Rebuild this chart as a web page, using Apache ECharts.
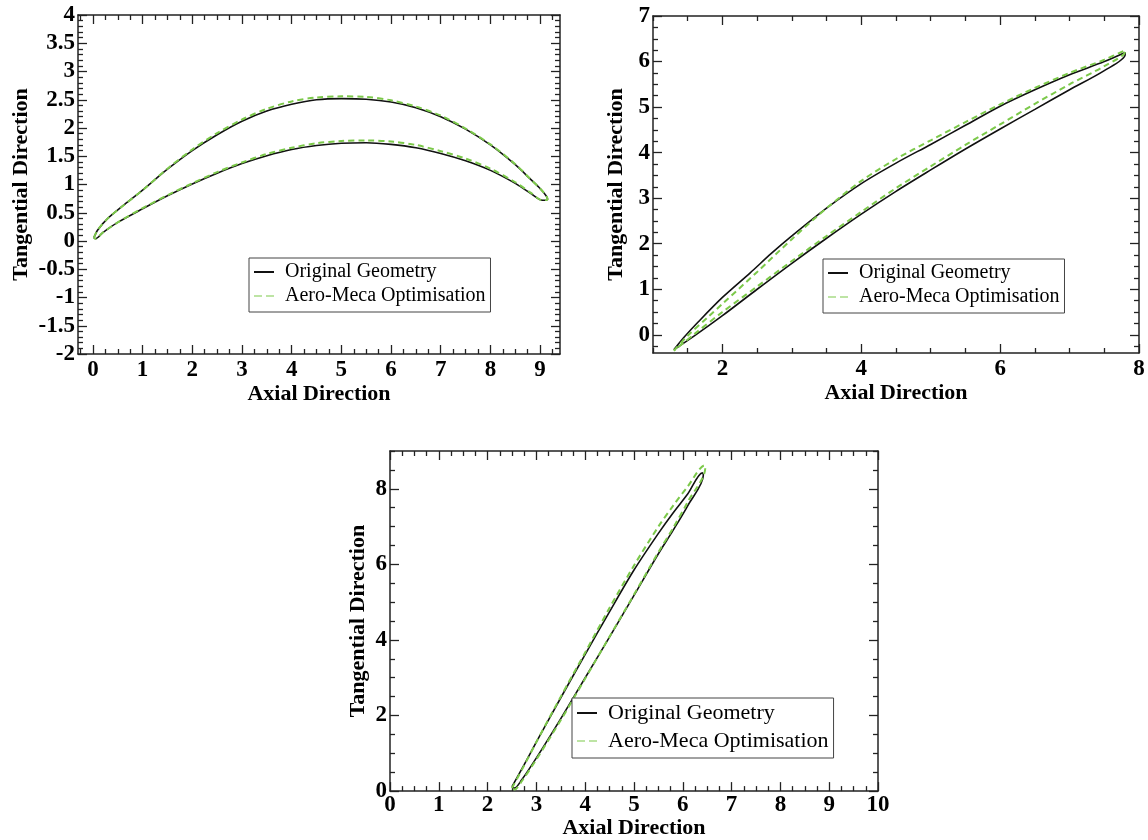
<!DOCTYPE html>
<html><head><meta charset="utf-8">
<script src="https://cdn.jsdelivr.net/npm/echarts@6/dist/echarts.min.js"></script>
<style>html,body{margin:0;padding:0;background:#fff}#c{width:1148px;height:840px}</style>
</head><body><div id="c"></div>
<script>
// ---------- DATA ----------
const seriesNames = ['Original Geometry', 'Aero-Meca Optimisation'];
const xTitle = 'Axial Direction';
const yTitle = 'Tangential Direction';

// Panel 1 (top left)
const p1XLabels = [0,1,2,3,4,5,6,7,8,9];
const p1YLabels = [-2,-1.5,-1,-0.5,0,0.5,1,1.5,2,2.5,3,3.5,4];
const p1Original = [[0.02,0.06],[0.1,0.2],[0.3,0.4],[0.6,0.62],[1.0,0.9],[1.5,1.27],[2.0,1.6],[2.5,1.88],[3.0,2.12],[3.5,2.3],[4.0,2.42],[4.5,2.5],[5.0,2.52],[5.5,2.51],[6.0,2.46],[6.5,2.36],[7.0,2.2],[7.5,1.98],[8.0,1.7],[8.5,1.35],[8.8,1.1],[9.0,0.93],[9.12,0.8],[9.15,0.74],[9.05,0.72],[8.8,0.85],[8.5,1.02],[8.0,1.25],[7.5,1.42],[7.0,1.55],[6.5,1.65],[6.0,1.71],[5.5,1.74],[5.0,1.73],[4.5,1.69],[4.0,1.62],[3.5,1.51],[3.0,1.37],[2.5,1.2],[2.0,1.01],[1.5,0.8],[1.0,0.57],[0.5,0.33],[0.2,0.15],[0.05,0.04],[0.02,0.06]];
const p1Optimised = [[0.02,0.06],[0.1,0.2],[0.3,0.4],[0.6,0.62],[1.0,0.9],[1.5,1.28],[2.0,1.62],[2.5,1.91],[3.0,2.15],[3.5,2.34],[4.0,2.47],[4.5,2.54],[5.0,2.56],[5.5,2.55],[6.0,2.49],[6.5,2.38],[7.0,2.22],[7.5,1.99],[8.0,1.71],[8.5,1.36],[8.8,1.1],[9.0,0.93],[9.12,0.8],[9.15,0.74],[9.05,0.72],[8.8,0.86],[8.5,1.04],[8.0,1.28],[7.5,1.46],[7.0,1.59],[6.5,1.7],[6.0,1.76],[5.5,1.78],[5.0,1.77],[4.5,1.73],[4.0,1.65],[3.5,1.54],[3.0,1.39],[2.5,1.22],[2.0,1.02],[1.5,0.81],[1.0,0.58],[0.5,0.33],[0.2,0.15],[0.05,0.04],[0.02,0.06]];

// Panel 2 (top right)
const p2XLabels = [2,4,6,8];
const p2YLabels = [0,1,2,3,4,5,6,7];
const p2Original = [[1.3,-0.33],[1.45,-0.05],[1.65,0.28],[2.0,0.82],[2.4,1.36],[2.7,1.78],[3.0,2.17],[3.5,2.78],[4.0,3.32],[4.5,3.77],[5.0,4.18],[5.5,4.6],[6.0,5.02],[6.5,5.38],[7.0,5.71],[7.5,6.0],[7.8,6.2],[7.8,6.15],[7.5,5.8],[7.0,5.38],[6.5,4.95],[6.0,4.52],[5.5,4.08],[5.0,3.62],[4.5,3.15],[4.0,2.65],[3.5,2.12],[3.0,1.57],[2.5,1.0],[2.0,0.42],[1.6,-0.02],[1.3,-0.33]];
const p2Optimised = [[1.3,-0.35],[1.5,-0.02],[1.8,0.4],[2.0,0.68],[2.5,1.38],[3.0,2.1],[3.5,2.78],[4.0,3.38],[4.5,3.86],[5.0,4.27],[5.5,4.67],[6.0,5.06],[6.5,5.42],[7.0,5.75],[7.5,6.04],[7.8,6.25],[7.8,6.22],[7.5,5.9],[7.0,5.5],[6.5,5.07],[6.0,4.62],[5.5,4.17],[5.0,3.7],[4.5,3.22],[4.0,2.7],[3.5,2.17],[3.0,1.62],[2.5,1.06],[2.0,0.5],[1.6,0.02],[1.3,-0.35]];

// Panel 3 (bottom)
const p3XLabels = [0,1,2,3,4,5,6,7,8,9,10];
const p3YLabels = [0,2,4,6,8];
const p3Original = [[2.5,0.12],[2.75,0.7],[3.0,1.3],[3.5,2.47],[4.0,3.62],[4.5,4.75],[5.0,5.85],[5.5,6.82],[5.8,7.36],[6.1,7.86],[6.4,8.42],[6.42,8.35],[6.1,7.55],[5.8,6.9],[5.5,6.28],[5.0,5.18],[4.5,4.08],[4.0,3.0],[3.5,1.92],[3.0,0.88],[2.7,0.3],[2.55,0.08],[2.5,0.12]];
const p3Optimised = [[2.5,0.08],[2.75,0.68],[3.0,1.3],[3.5,2.5],[4.0,3.67],[4.5,4.85],[5.0,5.97],[5.5,7.0],[5.8,7.55],[6.1,8.06],[6.45,8.62],[6.46,8.55],[6.1,7.65],[5.8,6.96],[5.5,6.32],[5.0,5.2],[4.5,4.09],[4.0,2.98],[3.5,1.88],[3.0,0.84],[2.7,0.26],[2.55,0.04],[2.5,0.08]];

// ---------- LAYOUT / STYLE ----------
const FONT = "'Liberation Serif','Times New Roman',serif";
const BLACK = '#111111';
const GREEN = '#7cc94a';
const AXIS = '#222222';
const DASH_ICON = 'path://M0,0H8V1H0Z M12,0H20V1H12Z';

const panels = [
  {grid:{left:78, top:15, width:482, height:339}, x:{min:-0.3, max:9.4, minorStep:0.25, labels:p1XLabels},
   y:{min:-2, max:4, minorStep:0.1, labels:p1YLabels}, xGap:27, yGap:46, xMargin:5,
   legend:{left:249, top:258, fontSize:20, gap:4}, orig:p1Original, opt:p1Optimised},
  {grid:{left:653, top:16, width:486, height:337}, x:{min:1, max:8, minorStep:0.5, labels:p2XLabels},
   y:{min:-0.4, max:7, minorStep:0.25, labels:p2YLabels}, xGap:27, yGap:26, xMargin:5,
   legend:{left:823, top:259, fontSize:20, gap:4}, orig:p2Original, opt:p2Optimised},
  {grid:{left:390, top:451, width:488, height:352}, x:{min:0, max:10, minorStep:0.25, labels:p3XLabels},
   y:{min:0, max:9, minorStep:0.5, labels:p3YLabels}, xGap:17, yGap:21, xMargin:2,
   legend:{left:572, top:698, fontSize:22, gap:6}, orig:p3Original, opt:p3Optimised}
];

function steps(min, max, step) {
  const out = [];
  const start = Math.ceil(min / step - 1e-9);
  for (let k = start; k * step <= max + 1e-9; k++) out.push(Math.round(k * step * 1000) / 1000);
  return out;
}

const tickLine = {color: AXIS, width: 1.3};
function makeAxes(gi, spec, isX, name, gap, margin) {
  const sides = isX ? ['bottom', 'top'] : ['left', 'right'];
  const minor = steps(spec.min, spec.max, spec.minorStep).filter(v => spec.labels.indexOf(v) < 0);
  const axes = [];
  sides.forEach((side, si) => {
    const base = {gridIndex: gi, type: 'value', position: side, offset: 0, min: spec.min, max: spec.max,
      splitLine: {show: false}};
    axes.push(Object.assign({}, base, {
      axisLine: {show: true, onZero: false, lineStyle: {color: AXIS, width: 1.5}},
      axisTick: {show: true, inside: true, length: 9, customValues: spec.labels, lineStyle: tickLine},
      axisLabel: si === 0 ? {show: true, customValues: spec.labels, margin: margin,
        fontFamily: FONT, fontWeight: 'bold', fontSize: 23, color: '#000'} : {show: false},
      name: si === 0 ? name : '', nameLocation: 'middle', nameGap: gap,
      nameTextStyle: {fontFamily: FONT, fontWeight: 'bold', fontSize: 22, color: '#000'}
    }));
    axes.push(Object.assign({}, base, {
      axisLine: {show: false, onZero: false},
      axisTick: {show: true, inside: true, length: 5, customValues: minor, lineStyle: tickLine},
      axisLabel: {show: false}
    }));
  });
  return axes;
}

const option = {animation: false, backgroundColor: '#fff', grid: [], xAxis: [], yAxis: [], legend: [], series: []};
panels.forEach((p, i) => {
  option.grid.push(Object.assign({containLabel: false}, p.grid));
  option.xAxis.push(...makeAxes(i, p.x, true, xTitle, p.xGap, p.xMargin));
  option.yAxis.push(...makeAxes(i, p.y, false, yTitle, p.yGap, 3));
  option.legend.push({
    left: p.legend.left, top: p.legend.top, orient: 'vertical', selectedMode: false,
    data: [{name: seriesNames[0], icon: 'rect'}, {name: seriesNames[1], icon: DASH_ICON}],
    itemWidth: 20, itemHeight: 2, itemGap: p.legend.gap, padding: [4, 5, 6, 5],
    borderColor: '#444', borderWidth: 1, backgroundColor: '#fff',
    textStyle: {fontFamily: FONT, fontSize: p.legend.fontSize, color: '#000', padding: [0, 0, 0, 6]}
  });
  option.series.push({
    name: seriesNames[0], type: 'line', xAxisIndex: 4 * i, yAxisIndex: 4 * i, data: p.orig,
    symbol: 'none', smooth: 0.3, lineStyle: {color: BLACK, width: 1.6, type: 'solid'}, itemStyle: {color: BLACK}, z: 2
  });
  option.series.push({
    name: seriesNames[1], type: 'line', xAxisIndex: 4 * i, yAxisIndex: 4 * i, data: p.opt,
    symbol: 'none', smooth: 0.3, lineStyle: {color: GREEN, width: 2, type: [6, 4]}, itemStyle: {color: GREEN}, z: 3
  });
});

const chart = echarts.init(document.getElementById('c'), null, {renderer: 'canvas'});
chart.setOption(option);
</script>
</body></html>
